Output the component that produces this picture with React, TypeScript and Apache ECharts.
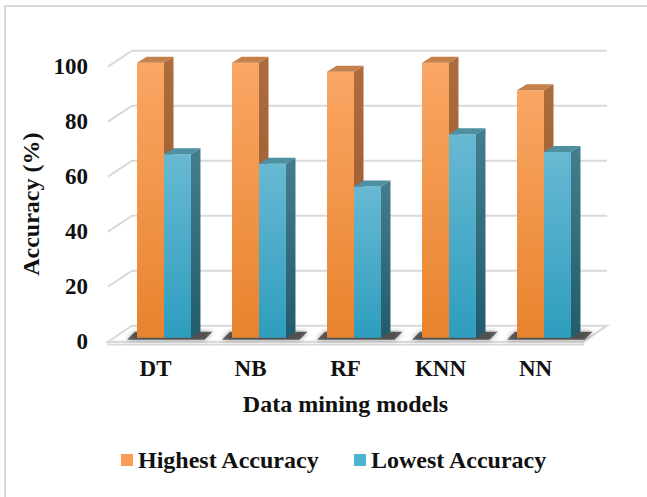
import React, { useEffect, useRef } from "react";
import * as echarts from "echarts";

const categories = ["DT", "NB", "RF", "KNN", "NN"];
const highestAccuracy = [100, 100, 96.7, 100, 90];
const lowestAccuracy = [66.7, 63.3, 55, 74, 67.5];
const yTicks = [0, 20, 40, 60, 80, 100];
const seriesNames = ["Highest Accuracy", "Lowest Accuracy"];

const FONT = "'Liberation Serif', 'Times New Roman', serif";
const TEXT = "#111111";
const GRID_LINE = "#d9d9d9";

// 3D projection offsets (pixels)
const PLANE_DX = 8.5; // bar front plane relative to floor front edge
const PLANE_DY = -4;
const BACK_DX = 24; // back wall relative to floor front edge
const BACK_DY = -16;
const DEPTH_X = 9.5; // bar depth
const DEPTH_Y = -6;
const BAR_RATIO = 0.284;

const palettes = [
  { frontTop: "#FAA665", frontBottom: "#E8832D", top: "#C4814B", sideTop: "#AC6C3D", sideBottom: "#955729", legend: "#F99D57" },
  { frontTop: "#68B9D3", frontBottom: "#2E9DBE", top: "#4F8FA2", sideTop: "#447E8E", sideBottom: "#215C6D", legend: "#4DB3CF" },
];

function vgrad(a: string, b: string) {
  return new echarts.graphic.LinearGradient(0, 0, 0, 1, [
    { offset: 0, color: a },
    { offset: 1, color: b },
  ]);
}

function barRenderer(idx: number) {
  const p = palettes[idx];
  return (params: any, api: any) => {
    const cat = api.value(0);
    const val = api.value(1);
    const top = api.coord([cat, val]);
    const base = api.coord([cat, 0]);
    const band = api.size([1, 0])[0];
    const bw = band * BAR_RATIO;
    const cx = top[0] + PLANE_DX;
    const x0 = idx === 0 ? cx - bw : cx;
    const x1 = x0 + bw;
    const yT = top[1] + PLANE_DY;
    const yB = base[1] + PLANE_DY;
    const children: any[] = [];
    if (idx === 0) {
      const gx0 = cx - bw;
      const gx1 = cx + bw + DEPTH_X;
      children.push({
        type: "polygon",
        shape: {
          points: [
            [gx0 - 10, yB + 2],
            [gx1 + 4, yB + 2],
            [gx1 + 12, yB - 6],
            [gx0 - 2, yB - 6],
          ],
        },
        style: { fill: "rgba(40,40,40,0.7)", shadowBlur: 5, shadowColor: "rgba(0,0,0,0.6)" },
      });
    }
    children.push({
      type: "polygon",
      shape: { points: [[x0, yT], [x1, yT], [x1, yB], [x0, yB]] },
      style: { fill: vgrad(p.frontTop, p.frontBottom) },
    });
    children.push({
      type: "polygon",
      shape: {
        points: [
          [x0, yT],
          [x1, yT],
          [x1 + DEPTH_X, yT + DEPTH_Y],
          [x0 + DEPTH_X, yT + DEPTH_Y],
        ],
      },
      style: { fill: p.top },
    });
    children.push({
      type: "polygon",
      shape: {
        points: [
          [x1, yT],
          [x1 + DEPTH_X, yT + DEPTH_Y],
          [x1 + DEPTH_X, yB + DEPTH_Y],
          [x1, yB],
        ],
      },
      style: { fill: vgrad(p.sideTop, p.sideBottom) },
    });
    return { type: "group", children };
  };
}

function wallRenderer(params: any, api: any) {
  const cs = params.coordSys;
  const v = api.value(1);
  const y = api.coord([0, v])[1];
  const xl = cs.x;
  const xr = cs.x + cs.width;
  if (v === 0) {
    return {
      type: "group",
      children: [
        {
          type: "polygon",
          shape: { points: [[xl, y + 3], [xr, y + 3], [xr, y], [xl, y]] },
          style: { fill: "#f2f2f2", stroke: GRID_LINE, lineWidth: 1.5 },
        },
        {
          type: "polygon",
          shape: {
            points: [
              [xl, y],
              [xr, y],
              [xr + BACK_DX, y + BACK_DY],
              [xl + BACK_DX, y + BACK_DY],
            ],
          },
          style: { fill: "#ffffff", stroke: GRID_LINE, lineWidth: 2 },
        },
      ],
    };
  }
  return {
    type: "group",
    children: [
      {
        type: "polyline",
        shape: {
          points: [
            [xl, y],
            [xl + BACK_DX, y + BACK_DY],
            [xr + BACK_DX, y + BACK_DY],
          ],
        },
        style: { fill: "none", stroke: GRID_LINE, lineWidth: 2 },
      },
    ],
  };
}

export default function App() {
  const ref = useRef<HTMLDivElement>(null);
  useEffect(() => {
    document.body.style.margin = "0";
    const chart = echarts.init(ref.current!, null, { renderer: "svg" });
    const tickStyle = { fontFamily: FONT, fontWeight: "bold" as const, fontSize: 23, color: TEXT };
    const nameStyle = { fontFamily: FONT, fontWeight: "bold" as const, fontSize: 24, color: TEXT };
    const option: any = {
      animation: false,
      backgroundColor: "#ffffff",
      graphic: [
        {
          type: "rect",
          shape: { x: 5, y: 6, width: 720, height: 600 },
          style: { fill: "none", stroke: "#d9d9d9", lineWidth: 2 },
          silent: true,
        },
      ],
      grid: { left: 108, top: 66.7, width: 475, height: 275, containLabel: false },
      xAxis: {
        type: "category",
        data: categories,
        axisLine: { show: false },
        axisTick: { show: false },
        splitLine: { show: false },
        axisLabel: { ...tickStyle, margin: 15 },
        name: "Data mining models",
        nameLocation: "middle",
        nameGap: 50,
        nameTextStyle: nameStyle,
      },
      yAxis: {
        type: "value",
        min: 0,
        max: 100,
        interval: 20,
        axisLine: { show: false },
        axisTick: { show: false },
        splitLine: { show: false },
        axisLabel: { ...tickStyle, margin: 20 },
        name: "Accuracy (%)",
        nameLocation: "middle",
        nameGap: 55,
        nameRotate: 90,
        nameTextStyle: nameStyle,
      },
      legend: {
        data: seriesNames,
        left: 121,
        top: 448,
        padding: 0,
        itemGap: 34,
        itemWidth: 12,
        itemHeight: 12,
        icon: "rect",
        textStyle: nameStyle,
      },
      series: [
        {
          type: "custom",
          name: "wall",
          silent: true,
          z: 1,
          renderItem: wallRenderer,
          data: yTicks.map((v) => [0, v]),
          encode: { x: 0, y: 1 },
        },
        {
          type: "custom",
          name: seriesNames[0],
          z: 2,
          itemStyle: { color: palettes[0].legend },
          renderItem: barRenderer(0),
          data: highestAccuracy.map((v, i) => [i, v]),
          encode: { x: 0, y: 1 },
        },
        {
          type: "custom",
          name: seriesNames[1],
          z: 3,
          itemStyle: { color: palettes[1].legend },
          renderItem: barRenderer(1),
          data: lowestAccuracy.map((v, i) => [i, v]),
          encode: { x: 0, y: 1 },
        },
      ],
    };
    chart.setOption(option);
    return () => chart.dispose();
  }, []);
  return <div ref={ref} style={{ width: 647, height: 497 }} />;
}
